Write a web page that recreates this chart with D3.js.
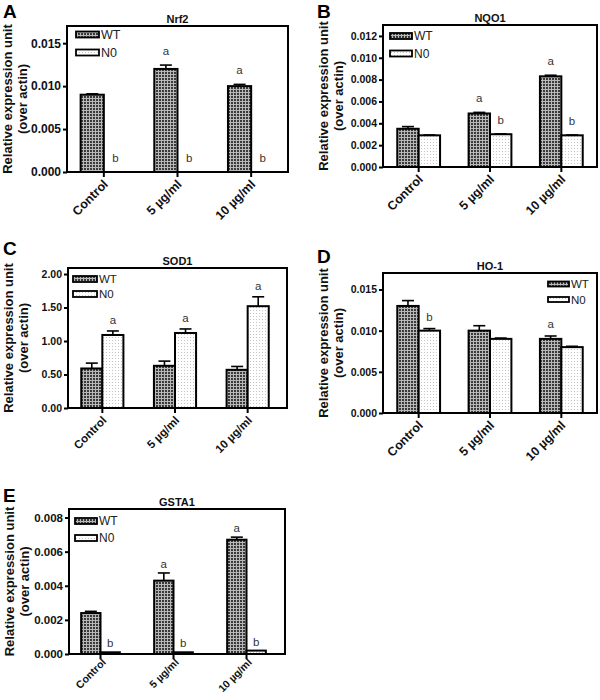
<!DOCTYPE html>
<html><head><meta charset="utf-8">
<script src="https://cdn.jsdelivr.net/npm/d3@7"></script>
<style>body{margin:0;background:#fff} svg{display:block;font-family:"Liberation Sans",Arial,sans-serif}</style>
</head><body><svg id="c" width="600" height="700"></svg>
<script>
const categories = ["Control", "5 µg/ml", "10 µg/ml"];
const seriesNames = ["WT", "N0"];

// A: Nrf2
const nrf2WT = [0.0090, 0.0120, 0.0100];
const nrf2WTErr = [0.0001, 0.00045, 0.0002];
const nrf2N0 = [0, 0, 0];
const nrf2N0Err = [0, 0, 0];
const nrf2WTSig = ["", "a", "a"];
const nrf2N0Sig = ["b", "b", "b"];
const nrf2Ticks = [0, 0.005, 0.010, 0.015];

// B: NQO1
const nqo1WT = [0.0035, 0.0049, 0.0083];
const nqo1WTErr = [0.0002, 0.0001, 0.0001];
const nqo1N0 = [0.0029, 0.0030, 0.0029];
const nqo1N0Err = [0.00003, 0.00003, 0.00003];
const nqo1WTSig = ["", "a", "a"];
const nqo1N0Sig = ["", "b", "b"];
const nqo1Ticks = [0, 0.002, 0.004, 0.006, 0.008, 0.010, 0.012];

// C: SOD1
const sod1WT = [0.59, 0.63, 0.57];
const sod1WTErr = [0.08, 0.07, 0.05];
const sod1N0 = [1.09, 1.12, 1.52];
const sod1N0Err = [0.06, 0.06, 0.14];
const sod1WTSig = ["", "", ""];
const sod1N0Sig = ["a", "a", "a"];
const sod1Ticks = [0, 0.5, 1.0, 1.5, 2.0];

// D: HO-1
const ho1WT = [0.0130, 0.0100, 0.0090];
const ho1WTErr = [0.00065, 0.0006, 0.00035];
const ho1N0 = [0.0100, 0.0090, 0.0080];
const ho1N0Err = [0.00025, 0.0001, 0.0001];
const ho1WTSig = ["", "", "a"];
const ho1N0Sig = ["b", "", ""];
const ho1Ticks = [0, 0.005, 0.010, 0.015];

// E: GSTA1
const gsta1WT = [0.0024, 0.0043, 0.0067];
const gsta1WTErr = [0.0001, 0.00045, 0.00015];
const gsta1N0 = [0.0001, 0.0001, 0.0002];
const gsta1N0Err = [0, 0, 0];
const gsta1WTSig = ["", "a", "a"];
const gsta1N0Sig = ["b", "b", "b"];
const gsta1Ticks = [0, 0.002, 0.004, 0.006, 0.008];

const panels = [
  {letter:"A", title:"Nrf2", letterPos:[3,18], box:[67,26,288,172], xRange:[67,288], yMax:0.017,
   ticks:nrf2Ticks, fmt:".3f", wt:nrf2WT, wtErr:nrf2WTErr, n0:nrf2N0, n0Err:nrf2N0Err, wtSig:nrf2WTSig, n0Sig:nrf2N0Sig,
   barFrac:0.315, sigGap:10, fs:12, xfs:12.5, xOff:[5,13], legend:{x:76, y:34.5, gap:18, w:23, h:6, fs:12.5}},
  {letter:"B", title:"NQO1", letterPos:[317,18], box:[383,25,597,167], xRange:[383,597], yMax:0.013,
   ticks:nqo1Ticks, fmt:".3f", wt:nqo1WT, wtErr:nqo1WTErr, n0:nqo1N0, n0Err:nqo1N0Err, wtSig:nqo1WTSig, n0Sig:nqo1N0Sig,
   barFrac:0.30, sigGap:10, fs:10.5, xfs:12.5, xOff:[5,13], legend:{x:390, y:36, gap:17.5, w:22, h:6, fs:12}},
  {letter:"C", title:"SOD1", letterPos:[3,255], box:[68,268,287,408], xRange:[66,284], yMax:2.09,
   ticks:sod1Ticks, fmt:".2f", wt:sod1WT, wtErr:sod1WTErr, n0:sod1N0, n0Err:sod1N0Err, wtSig:sod1WTSig, n0Sig:sod1N0Sig,
   barFrac:0.29, sigGap:7, fs:10.5, xfs:11.5, xOff:[5,13], legend:{x:73, y:279, gap:15, w:24, h:6, fs:11.5}},
  {letter:"D", title:"HO-1", letterPos:[317,263], box:[383,273,597,413], xRange:[383,597], yMax:0.017,
   ticks:ho1Ticks, fmt:".3f", wt:ho1WT, wtErr:ho1WTErr, n0:ho1N0, n0Err:ho1N0Err, wtSig:ho1WTSig, n0Sig:ho1N0Sig,
   barFrac:0.30, sigGap:8, fs:10.5, xfs:12.5, xOff:[5,13], legend:{x:548, y:284, gap:15.5, w:21, h:5, fs:11.5}},
  {letter:"E", title:"GSTA1", letterPos:[3,502], box:[69,509,285,654], xRange:[64,283], yMax:0.0085,
   ticks:gsta1Ticks, fmt:".3f", wt:gsta1WT, wtErr:gsta1WTErr, n0:gsta1N0, n0Err:gsta1N0Err, wtSig:gsta1WTSig, n0Sig:gsta1N0Sig,
   barFrac:0.265, sigGap:5, fs:11.5, xfs:10.5, xOff:[6,9], legend:{x:75, y:521, gap:17, w:22, h:6, fs:12}}
];

const svg = d3.select("#c");
const defs = svg.append("defs");
const pw = defs.append("pattern").attr("id","pWT").attr("patternUnits","userSpaceOnUse").attr("width",3).attr("height",3);
pw.append("rect").attr("width",3).attr("height",3).attr("fill","#b8b8b8");
pw.append("rect").attr("width",2).attr("height",2).attr("fill","#3a3a3a");
const pn = defs.append("pattern").attr("id","pN0").attr("patternUnits","userSpaceOnUse").attr("width",3).attr("height",3);
pn.append("rect").attr("width",3).attr("height",3).attr("fill","#ffffff");
pn.append("rect").attr("x",1).attr("y",1).attr("width",1).attr("height",1).attr("fill","#c4c4c4");

const fills = {WT:"url(#pWT)", N0:"url(#pN0)"};

function drawPanel(p) {
  const g = svg.append("g");
  const [x0,y0,x1,y1] = p.box;
  const y = d3.scaleLinear().domain([0,p.yMax]).range([y1,y0]);
  const x = d3.scaleBand().domain(categories).range(p.xRange).padding(0);
  const bw = x.bandwidth()*p.barFrac;
  const series = [
    {name:"WT", vals:p.wt, err:p.wtErr, sig:p.wtSig, off:-bw},
    {name:"N0", vals:p.n0, err:p.n0Err, sig:p.n0Sig, off:0}
  ];
  series.forEach(s => {
    const rows = categories.map((c,i)=>({c, v:s.vals[i], e:s.err[i], sig:s.sig[i]}));
    const bx = d => x(d.c) + x.bandwidth()/2 + s.off;
    g.selectAll(null).data(rows.filter(d=>d.e>0)).join("line")
      .attr("x1", d=>bx(d)+bw/2).attr("x2", d=>bx(d)+bw/2)
      .attr("y1", d=>y(d.v)).attr("y2", d=>y(d.v+d.e))
      .attr("stroke","#000").attr("stroke-width",1.6);
    g.selectAll(null).data(rows.filter(d=>d.e>0)).join("line")
      .attr("x1", d=>bx(d)+bw/2-6).attr("x2", d=>bx(d)+bw/2+6)
      .attr("y1", d=>y(d.v+d.e)).attr("y2", d=>y(d.v+d.e))
      .attr("stroke","#000").attr("stroke-width",1.6);
    g.selectAll(null).data(rows).join("rect")
      .attr("x", bx).attr("width", bw)
      .attr("y", d=>y(d.v)).attr("height", d=>y(0)-y(d.v))
      .attr("fill", fills[s.name]).attr("stroke","#000").attr("stroke-width",2);
    g.selectAll(null).data(rows.filter(d=>d.sig)).join("text")
      .attr("x", d=>bx(d)+bw/2).attr("y", d=>y(d.v+d.e)-p.sigGap)
      .attr("text-anchor","middle").attr("font-size",11.5).attr("fill","#333")
      .text(d=>d.sig);
  });
  g.append("rect").attr("x",x0).attr("y",y0).attr("width",x1-x0).attr("height",y1-y0)
    .attr("fill","none").attr("stroke","#000").attr("stroke-width",2);
  const ya = g.append("g").attr("transform",`translate(${x0},0)`)
    .call(d3.axisLeft(y).tickValues(p.ticks).tickFormat(d3.format(p.fmt)).tickSize(4).tickPadding(2));
  ya.select(".domain").remove();
  ya.selectAll("line").attr("stroke","#000").attr("stroke-width",2);
  ya.selectAll("text").attr("font-size",p.fs).attr("font-weight","bold").attr("fill","#111")
    .attr("font-family",'"Liberation Sans",Arial,sans-serif');
  const xa = g.append("g").attr("transform",`translate(0,${y1})`)
    .call(d3.axisBottom(x).tickSize(5));
  xa.select(".domain").remove();
  xa.selectAll("line").attr("stroke","#000").attr("stroke-width",2);
  xa.selectAll("text").attr("x",0).attr("y",0).attr("dy",null)
    .attr("transform",`translate(${p.xOff[0]},${p.xOff[1]}) rotate(-45)`)
    .style("text-anchor","end")
    .attr("font-size",p.xfs).attr("font-weight","bold").attr("fill","#111")
    .attr("font-family",'"Liberation Sans",Arial,sans-serif');
  g.append("text").attr("x",(x0+x1)/2).attr("y",y0-3.5).attr("text-anchor","middle")
    .attr("font-size",11).attr("font-weight","bold").attr("fill","#111").text(p.title);
  const cy = (y0+y1)/2;
  g.append("text").attr("transform",`translate(${x0-55},${cy}) rotate(-90)`).attr("text-anchor","middle")
    .attr("font-size",13).attr("font-weight","bold").attr("fill","#111").text("Relative expression unit");
  g.append("text").attr("transform",`translate(${x0-40},${cy}) rotate(-90)`).attr("text-anchor","middle")
    .attr("font-size",13).attr("font-weight","bold").attr("fill","#111").text("(over actin)");
  g.append("text").attr("x",p.letterPos[0]).attr("y",p.letterPos[1])
    .attr("font-size",19).attr("font-weight","bold").attr("fill","#000").text(p.letter);
  const L = p.legend;
  seriesNames.forEach((n,i)=>{
    const ry = L.y + i*L.gap;
    g.append("rect").attr("x",L.x).attr("y",ry-L.h/2).attr("width",L.w).attr("height",L.h)
      .attr("fill",fills[n]).attr("stroke","#000").attr("stroke-width",1.8);
    g.append("text").attr("x",L.x+L.w+2).attr("y",ry).attr("dy","0.36em")
      .attr("font-size",L.fs).attr("fill","#222").text(n);
  });
}
panels.forEach(drawPanel);
</script></body></html>
